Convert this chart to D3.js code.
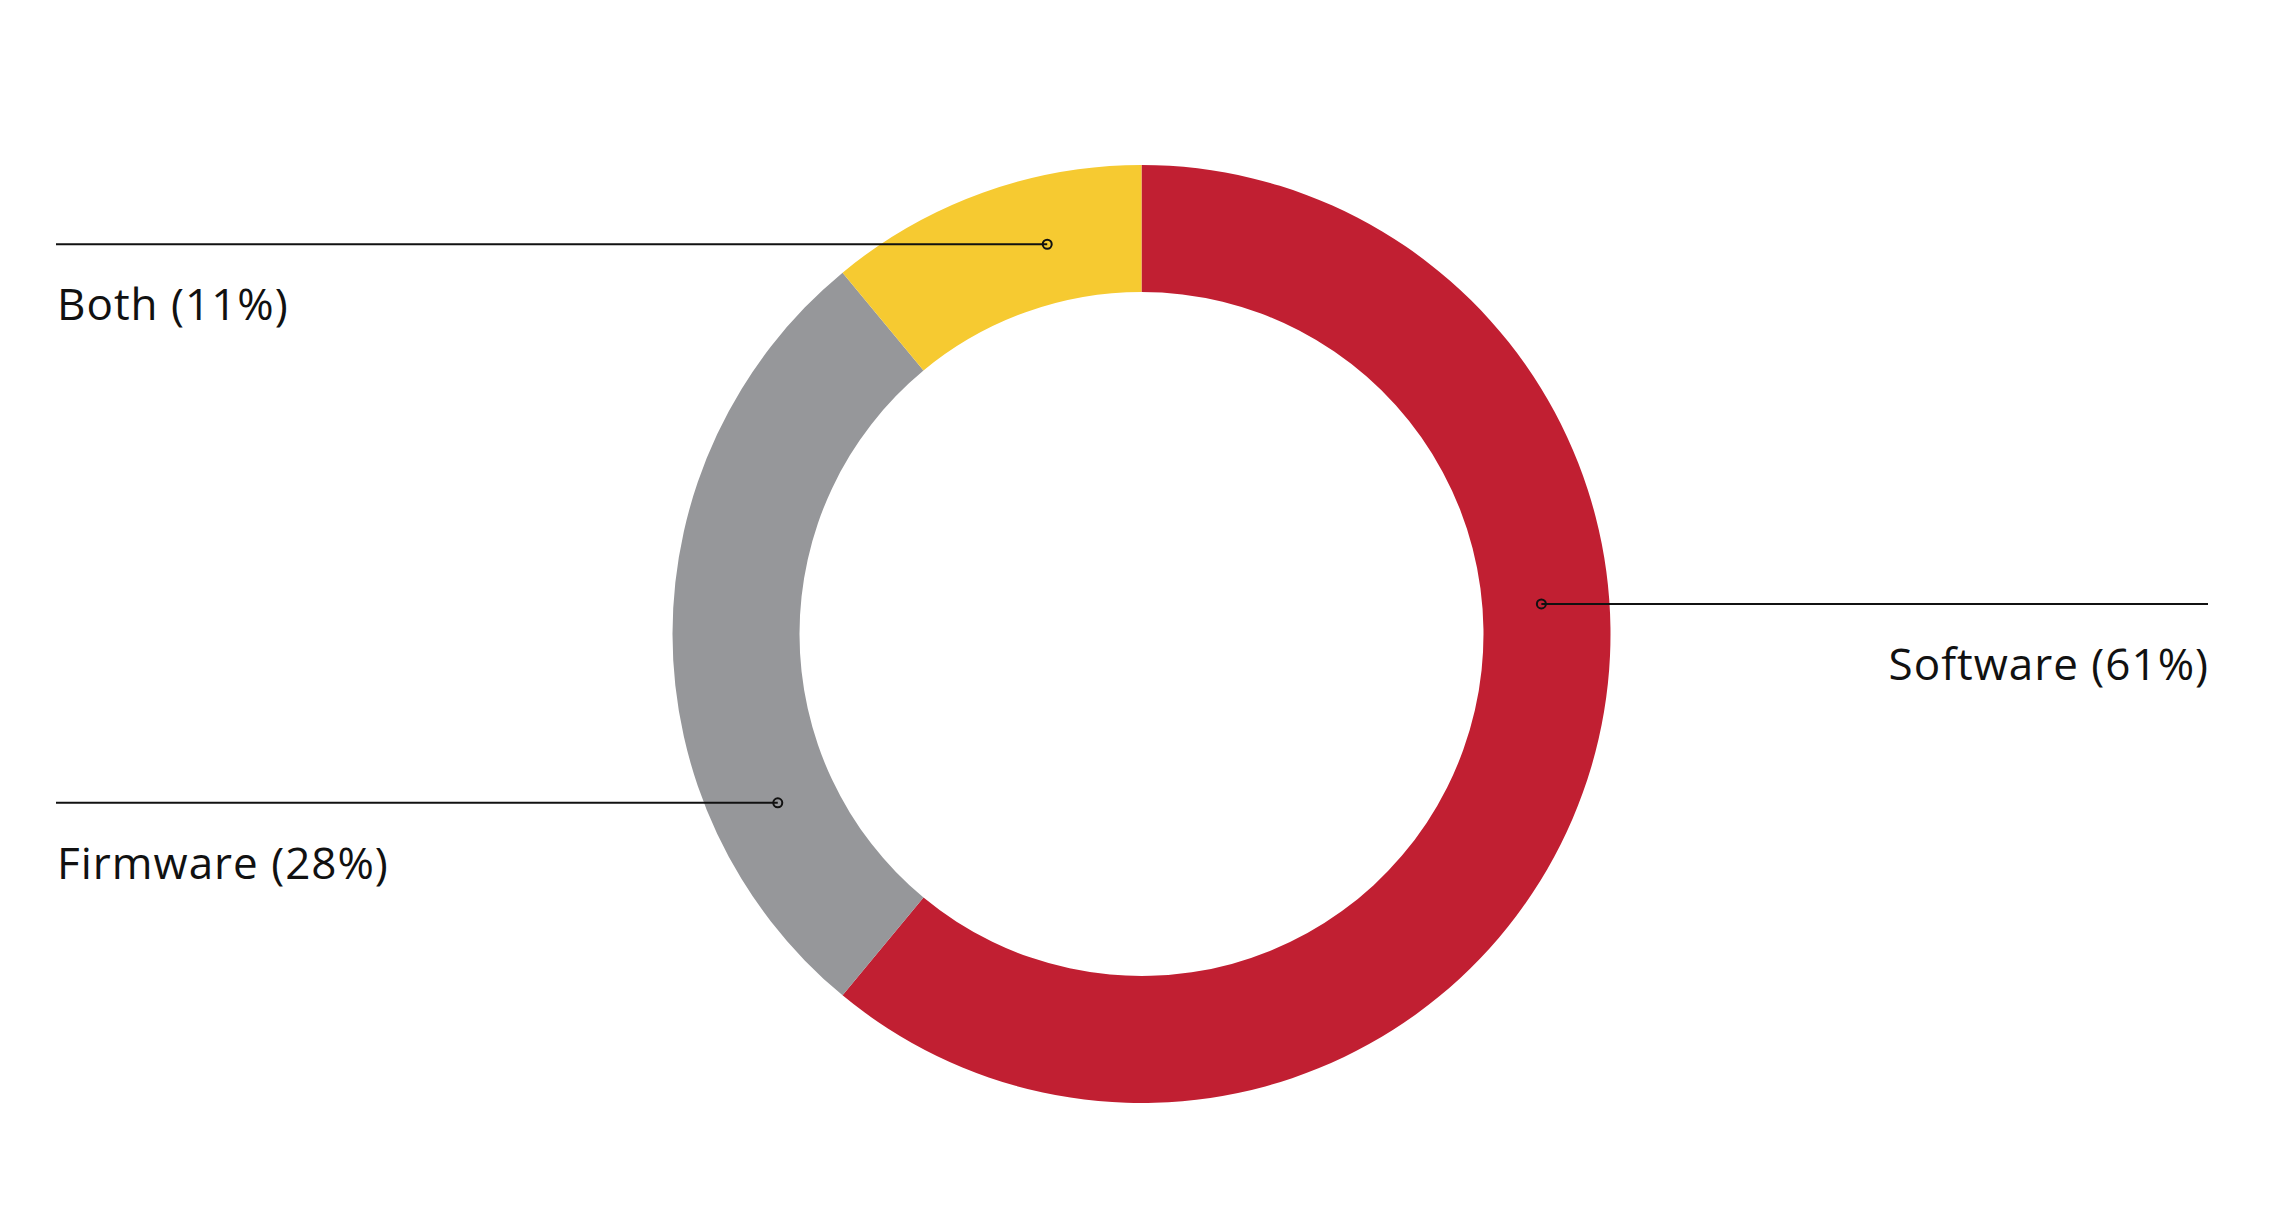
<!DOCTYPE html>
<html>
<head>
<meta charset="utf-8">
<script src="https://cdn.jsdelivr.net/npm/d3@7"></script>
<style>
  body { margin: 0; background: #fff; }
  svg { display: block; }
  .label { font-family: "Open Sans", Lato, sans-serif; font-weight: 400; font-size: 44px; letter-spacing: 1px; fill: #111; }
</style>
</head>
<body>
<script>
// data
var categories = ["Software", "Firmware", "Both"];
var shares = [61, 28, 11];
var colors = ["#C11F32", "#96979A", "#F6CA31"];
// where each leader touches the ring (degrees clockwise from top)
var leaderAngles = [85.7, 245.1, 346.4];
var labelSide = ["right", "left", "left"];

var width = 2279, height = 1228;
var cx = 1141.5, cy = 634;
var outerR = 469, innerR = 342, dotR = 401;

var svg = d3.select("body").append("svg")
    .attr("width", width)
    .attr("height", height);

var pie = d3.pie().sort(null).value(function(d){ return d; });
var arc = d3.arc().innerRadius(innerR).outerRadius(outerR);

var ring = svg.append("g").attr("transform", "translate(" + cx + "," + cy + ")");

ring.selectAll("path").data(pie(shares)).enter()
    .append("path")
    .attr("d", arc)
    .attr("fill", function(d, i){ return colors[i]; });

var leftX = 56, rightX = 2208;

var labels = svg.append("g");
categories.forEach(function(name, i){
    var a = leaderAngles[i] * Math.PI / 180;
    var px = cx + dotR * Math.sin(a);
    var py = cy - dotR * Math.cos(a);
    var endX = labelSide[i] == "right" ? rightX : leftX;

    labels.append("line")
        .attr("x1", px).attr("y1", py)
        .attr("x2", endX).attr("y2", py)
        .attr("stroke", "#111")
        .attr("stroke-width", 2);

    labels.append("circle")
        .attr("cx", px).attr("cy", py)
        .attr("r", 4.5)
        .attr("fill", "none")
        .attr("stroke", "#111")
        .attr("stroke-width", 2);

    // trailing letter-spacing pushes end-anchored text left, so nudge it back
    labels.append("text")
        .attr("class", "label")
        .attr("x", labelSide[i] == "right" ? rightX + 1 : leftX + 1)
        .attr("y", py + 76)
        .attr("text-anchor", labelSide[i] == "right" ? "end" : "start")
        .text(name + " (" + shares[i] + "%)");
});
</script>
</body>
</html>
